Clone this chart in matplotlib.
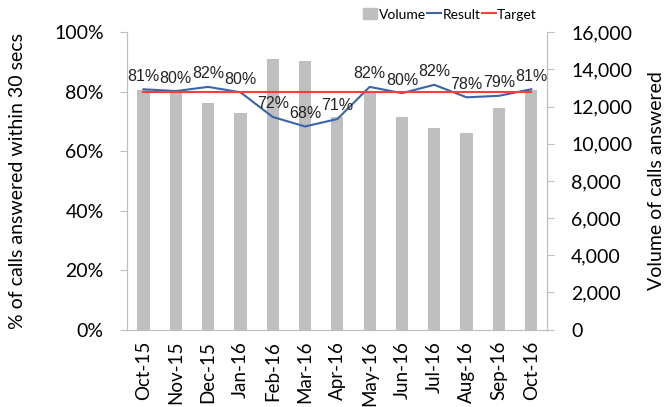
import matplotlib.pyplot as plt
from matplotlib.patches import Patch
from matplotlib.lines import Line2D

months = ['Oct-15', 'Nov-15', 'Dec-15', 'Jan-16', 'Feb-16', 'Mar-16', 'Apr-16',
          'May-16', 'Jun-16', 'Jul-16', 'Aug-16', 'Sep-16', 'Oct-16']
volume = [12900, 12800, 12200, 11650, 14550, 14450, 11450,
          12750, 11450, 10850, 10550, 11900, 12900]
result = [80.8, 80.2, 81.6, 79.8, 71.5, 68.3, 70.8,
          81.6, 79.5, 82.3, 78.1, 78.6, 80.8]
result_labels = ['81%', '80%', '82%', '80%', '72%', '68%', '71%',
                 '82%', '80%', '82%', '78%', '79%', '81%']
target = [80] * len(months)

plt.rcParams['font.family'] = ['Lato', 'DejaVu Sans']

fig, ax = plt.subplots(figsize=(6.7, 4.07), dpi=100)
fig.subplots_adjust(left=0.19, right=0.817, top=0.921, bottom=0.19)
ax2 = ax.twinx()

x = list(range(len(months)))
ax2.bar(x, volume, width=0.38, color='#BFBFBF', zorder=1)
ax2.set_ylim(0, 16000)
ax2.set_yticks(range(0, 16001, 2000))
ax2.set_yticklabels([f'{v:,}' for v in range(0, 16001, 2000)], fontsize=14)
ax2.set_ylabel('Volume of calls answered', fontsize=14)
ax2.yaxis.set_label_coords(1.24, 0.5)

# draw the lines on top of the bars
ax.set_zorder(ax2.get_zorder() + 1)
ax.patch.set_visible(False)
ax.plot(x, result, color='#3A64A8', lw=1.5)
ax.plot(x, target, color='#FF3B3B', lw=1.5)
for xi, yi, lab in zip(x, result, result_labels):
    ax.annotate(lab, (xi, yi), xytext=(0, 4), textcoords='offset points',
                ha='center', va='bottom', fontsize=11.5,
                family=['Liberation Sans', 'DejaVu Sans'], color='#222222')

ax.set_ylim(0, 100)
ax.set_yticks(range(0, 101, 20))
ax.set_yticklabels([f'{v}%' for v in range(0, 101, 20)], fontsize=14)
ax.set_ylabel('% of calls answered within 30 secs', fontsize=14)
ax.yaxis.set_label_coords(-0.24, 0.5)
ax.set_xlim(-0.5, len(months) - 0.5)
ax.set_xticks(x)
ax.set_xticklabels(months, rotation=90, fontsize=13.5)

for a in (ax, ax2):
    for s in a.spines.values():
        s.set_color('#BFBFBF')
    a.spines['top'].set_visible(False)
    a.tick_params(axis='y', color='#BFBFBF', length=5, pad=12)
ax.tick_params(axis='x', length=0, pad=8)

handles = [Patch(color='#BFBFBF'), Line2D([], [], color='#3A64A8'),
           Line2D([], [], color='#FF3B3B')]
fig.legend(handles, ['Volume', 'Result', 'Target'], loc='upper right',
           bbox_to_anchor=(0.82, 1.01), ncol=3, frameon=False, fontsize=10,
           handlelength=1.0, handletextpad=0.1, columnspacing=0.1,
           handleheight=0.8)

fig.savefig('out.png')
